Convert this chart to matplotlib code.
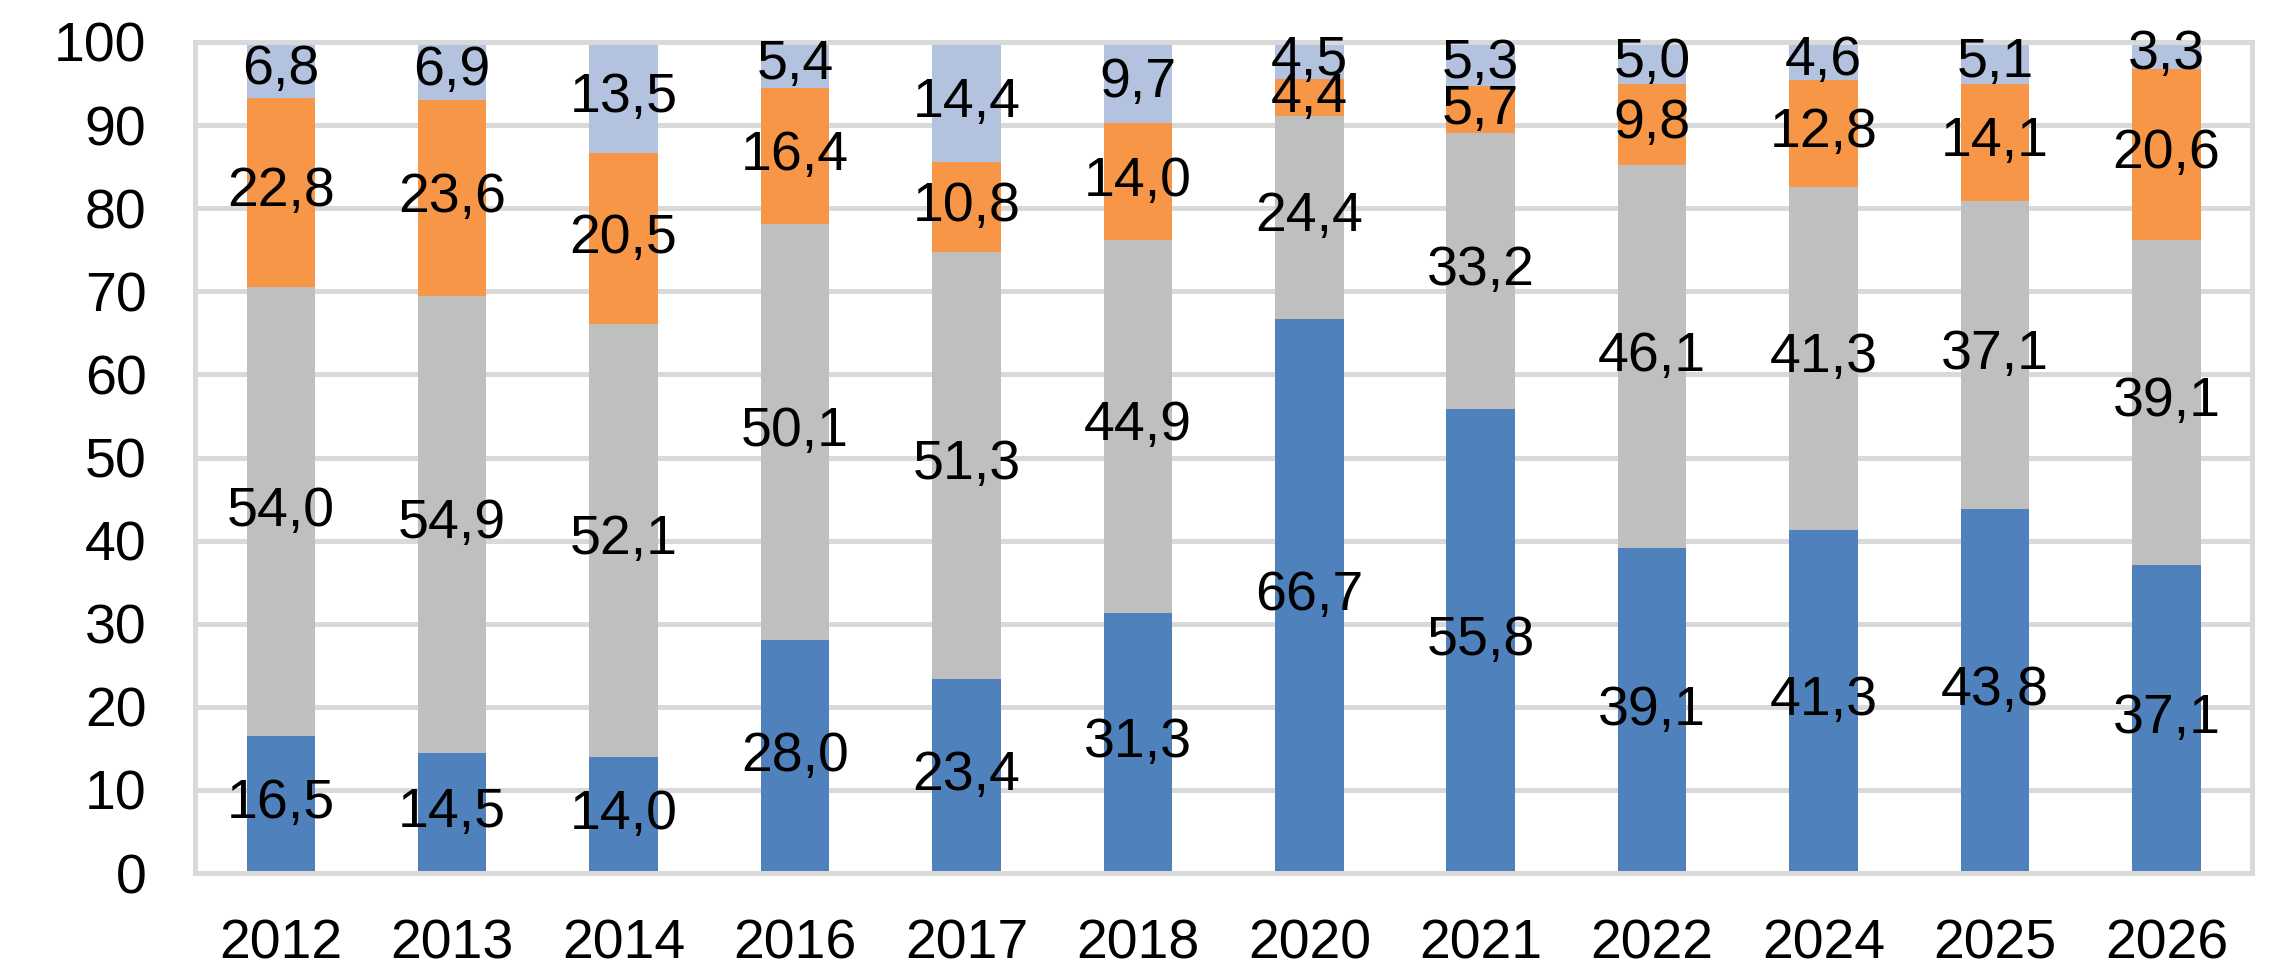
import matplotlib
matplotlib.use("Agg")
import matplotlib.pyplot as plt
import numpy as np

years = ["2012", "2013", "2014", "2016", "2017", "2018", "2020", "2021", "2022", "2024", "2025", "2026"]
s1 = [16.5, 14.5, 14.0, 28.0, 23.4, 31.3, 66.7, 55.8, 39.1, 41.3, 43.8, 37.1]
s2 = [54.0, 54.9, 52.1, 50.1, 51.3, 44.9, 24.4, 33.2, 46.1, 41.3, 37.1, 39.1]
s3 = [22.8, 23.6, 20.5, 16.4, 10.8, 14.0, 4.4, 5.7, 9.8, 12.8, 14.1, 20.6]
s4 = [6.8, 6.9, 13.5, 5.4, 14.4, 9.7, 4.5, 5.3, 5.0, 4.6, 5.1, 3.3]
yticks = [0, 10, 20, 30, 40, 50, 60, 70, 80, 90, 100]

series = [s1, s2, s3, s4]
colors = ["#4F81BD", "#BFBFBF", "#F79646", "#B3C3DF"]

plt.rcParams['font.family'] = ['Liberation Sans', 'DejaVu Sans']

fig = plt.figure(figsize=(22.79, 9.72), dpi=100)
ax = fig.add_axes([0.0856, 0.1018, 0.9026, 0.855])

x = np.arange(len(years))
bottom = np.zeros(len(years))
grid_c = "#D9D9D9"
ax.set_axisbelow(True)
ax.yaxis.grid(True, color=grid_c, linewidth=3.6)

FS = 40
for vals, c in zip(series, colors):
    v = np.array(vals)
    ax.bar(x, v, width=0.4, bottom=bottom, color=c, zorder=2)
    for xi, b, h in zip(x, bottom, v):
        top = min(b + h, 100)
        center = (b + top) / 2
        ax.text(xi, center, f"{h:.1f}".replace(".", ","), ha="center", va="center",
                fontsize=FS, color="black", zorder=3)
    bottom = bottom + v

ax.set_xlim(-0.5, len(years) - 0.5)
ax.set_ylim(0, 100)
ax.set_yticks(yticks)
ax.set_yticklabels([str(t) for t in yticks], fontsize=FS)
ax.set_xticks(x)
ax.set_xticklabels(years, fontsize=FS)
ax.tick_params(axis='both', length=0)
ax.tick_params(axis='y', pad=35)
ax.tick_params(axis='x', pad=33)
for sp in ax.spines.values():
    sp.set_color(grid_c)
    sp.set_linewidth(3.6)

fig.savefig("out.png", dpi=100)
